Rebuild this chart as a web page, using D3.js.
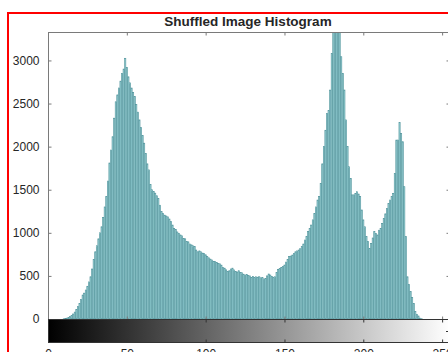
<!DOCTYPE html>
<html>
<head>
<meta charset="utf-8">
<script src="https://cdn.jsdelivr.net/npm/d3@7"></script>
<style>
  html, body { margin: 0; padding: 0; background: #fff; overflow: hidden; }
  svg { display: block; }
  text { font-family: "Liberation Sans", Arial, sans-serif; fill: #262626; }
</style>
</head>
<body>
<figure id="hist" style="margin:0"></figure>
<script>
// histogram counts, bins 0..255 (181-185 run above the top)
const counts = [
  0, 0, 0, 0, 0, 0, 0, 0, 0, 0,
  2, 5, 10, 18, 27, 40, 58, 80, 110, 143,
  180, 228, 278, 300, 336, 380, 430, 490, 580, 690,
  780, 850, 930, 1000, 1070, 1180, 1300, 1420, 1600, 1810,
  1960, 2115, 2330, 2520, 2600, 2680, 2760, 2850, 2900, 3025,
  2920, 2810, 2740, 2680, 2630, 2580, 2490, 2400, 2310, 2220,
  2130, 2040, 1920, 1800, 1730, 1560, 1500, 1480, 1460, 1430,
  1400, 1320, 1245, 1225, 1205, 1195, 1185, 1160, 1130, 1090,
  1050, 1040, 1010, 995, 975, 965, 935, 930, 900, 895,
  870, 860, 850, 840, 800, 780, 790, 780, 765, 760,
  745, 725, 710, 695, 685, 670, 665, 655, 645, 640,
  625, 600, 590, 570, 550, 560, 580, 590, 570, 550,
  545, 560, 540, 537, 520, 510, 515, 505, 500, 483,
  495, 480, 490, 485, 490, 478, 482, 465, 472, 500,
  522, 510, 495, 485, 490, 540, 576, 585, 600, 610,
  626, 660, 690, 723, 730, 742, 760, 780, 790, 800,
  815, 840, 870, 916, 960, 1013, 1050, 1090, 1150, 1226,
  1300, 1380, 1420, 1574, 1800, 2000, 2190, 2386, 2420, 2656,
  3080, 3400, 3600, 3700, 3650, 3450, 3043, 2850, 2657, 2310,
  2000, 1767, 1632, 1440, 1440, 1458, 1477, 1450, 1420, 1265,
  1150, 1070, 955, 900, 820, 878, 940, 1013, 990, 975,
  1030, 1052, 1110, 1168, 1220, 1284, 1340, 1380, 1420, 1458,
  1690, 2076, 2076, 2280, 2150, 2057, 1535, 955, 490, 400,
  317, 250, 182, 85, 55, 35, 10, 3, 0, 0,
  0, 0, 0, 0, 0, 0, 0, 0, 0, 0,
  0, 0, 0, 0, 0, 0
]
const xTicks = [0, 50, 100, 150, 200, 250]
const yTicks = [0, 500, 1000, 1500, 2000, 2500, 3000]
const title = "Shuffled Image Histogram"
const yMax = 3330

const width = 448
const height = 352
const plotLeft = 48, plotRight = 450, plotTop = 32, plotBottom = 319
const barBottom = 342

const svg = d3.select('figure#hist')
  .append("svg")
  .attr("width", width)
  .attr("height", height)

// red frame round the figure
svg.append("rect")
  .attr("x", 8).attr("y", 13)
  .attr("width", 460).attr("height", 360)
  .attr("fill", "none")
  .attr("stroke", "#f00")
  .attr("stroke-width", 2)

const x = d3.scaleLinear().domain([0, 255]).range([plotLeft, plotRight])
const y = d3.scaleLinear().domain([0, yMax]).range([plotBottom, plotTop])

svg.append("text")
  .attr("x", 248).attr("y", 26)
  .attr("text-anchor", "middle")
  .style("font-size", "13.5px")
  .style("font-weight", "bold")
  .text(title)

svg.append("clipPath").attr("id", "plot-clip")
  .append("rect")
  .attr("x", plotLeft).attr("y", plotTop)
  .attr("width", plotRight - plotLeft).attr("height", plotBottom - plotTop)

const bw = (x(1) - x(0)) * 0.75
svg.append("g")
  .attr("clip-path", "url(#plot-clip)")
  .selectAll("rect")
  .data(counts)
  .enter().append("rect")
  .attr("x", (d, i) => x(i) - bw / 2)
  .attr("y", d => y(d))
  .attr("width", bw)
  .attr("height", d => y(0) - y(d))
  .attr("fill", "#a2d8dc")
  .attr("stroke", "#4a8f97")
  .attr("stroke-width", 0.6)

// axis box
svg.append("rect")
  .attr("x", plotLeft + 0.5).attr("y", plotTop + 0.5)
  .attr("width", plotRight - plotLeft).attr("height", plotBottom - plotTop)
  .attr("fill", "none")
  .attr("stroke", "#7a7a7a")

// left axis labels + ticks, mirrored on the right
const yAxis = svg.append("g")
  .attr("transform", `translate(${plotLeft + 0.5},0)`)
  .call(d3.axisLeft(y).tickValues(yTicks).tickSize(-3).tickPadding(9).tickFormat(d3.format("d")))
yAxis.select(".domain").remove()
yAxis.selectAll("line").attr("stroke", "#7a7a7a")
yAxis.selectAll("text")
  .style("font-size", "12px")
  .attr("fill", "#262626")

svg.append("g")
  .attr("transform", `translate(${plotRight + 0.5},0)`)
  .call(d3.axisRight(y).tickValues(yTicks).tickSize(-4).tickFormat(""))
  .call(g => g.select(".domain").remove())
  .selectAll("line").attr("stroke", "#7a7a7a")

// x ticks on the top and bottom of the histogram box
svg.append("g")
  .attr("transform", `translate(0,${plotTop + 0.5})`)
  .call(d3.axisTop(x).tickValues(xTicks).tickSize(-3).tickFormat(""))
  .call(g => g.select(".domain").remove())
  .selectAll("line").attr("stroke", "#7a7a7a")
svg.append("g")
  .attr("transform", `translate(0,${plotBottom + 0.5})`)
  .call(d3.axisBottom(x).tickValues(xTicks).tickSize(-3).tickFormat(""))
  .call(g => g.select(".domain").remove())
  .selectAll("line").attr("stroke", "#7a7a7a")

// gray colour bar underneath
const grad = svg.append("defs").append("linearGradient")
  .attr("id", "grayramp")
  .attr("x1", "0%").attr("y1", "0%")
  .attr("x2", "100%").attr("y2", "0%")
grad.append("stop").attr("offset", "0%").style("stop-color", "#000")
grad.append("stop").attr("offset", "100%").style("stop-color", "#fff")

svg.append("rect")
  .attr("x", plotLeft + 0.5).attr("y", plotBottom + 0.5)
  .attr("width", plotRight - plotLeft).attr("height", barBottom - plotBottom)
  .attr("fill", "url(#grayramp)")
  .attr("stroke", "#333")

const cbAxis = svg.append("g")
  .attr("transform", `translate(0,${barBottom + 0.5})`)
  .call(d3.axisBottom(x).tickValues(xTicks).tickSize(-3).tickPadding(7).tickFormat(d3.format("d")))
cbAxis.select(".domain").remove()
cbAxis.selectAll("line").attr("stroke", "#333")
cbAxis.selectAll("text")
  .style("font-size", "12px")
  .attr("fill", "#262626")

svg.append("g")
  .attr("transform", `translate(0,${plotBottom + 0.5})`)
  .call(d3.axisBottom(x).tickValues(xTicks).tickSize(3).tickFormat(""))
  .call(g => g.select(".domain").remove())
  .selectAll("line").attr("stroke", "#333")

svg.append("line")
  .attr("x1", plotRight - 4).attr("x2", plotRight)
  .attr("y1", 331.5).attr("y2", 331.5)
  .attr("stroke", "#333")
</script>
</body>
</html>
